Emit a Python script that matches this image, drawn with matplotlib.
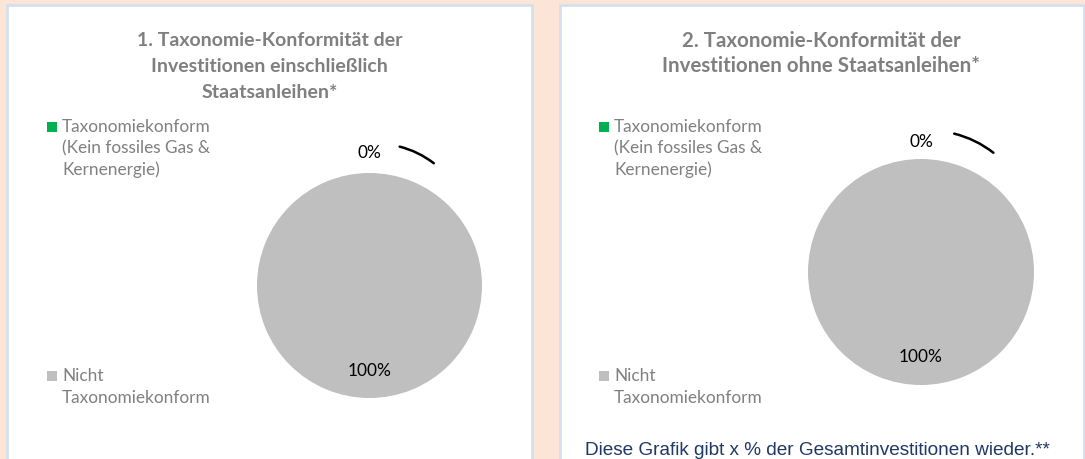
import matplotlib
matplotlib.use("Agg")
import matplotlib.pyplot as plt
from matplotlib.patches import Rectangle
import numpy as np

# ---------------- data ----------------
categories = ["Taxonomiekonform\n(Kein fossiles Gas &\nKernenergie)", "Nicht\nTaxonomiekonform"]
values_incl = [0, 100]   # 1. incl. Staatsanleihen
values_excl = [0, 100]   # 2. ohne Staatsanleihen
colors = ["#00B050", "#BFBFBF"]
titles = [
    ["1. Taxonomie-Konformität der", "Investitionen einschließlich", "Staatsanleihen*"],
    ["2. Taxonomie-Konformität der", "Investitionen ohne Staatsanleihen*"],
]
footnote = "Diese Grafik gibt x % der Gesamtinvestitionen wieder.**"

W, H = 1085, 459
fig = plt.figure(figsize=(W / 100, H / 100), dpi=100)
fig.patch.set_facecolor("#FCE4D6")


def fx(x):
    return x / W


def fy(y):
    return 1 - y / H


# panels
for x0, x1 in [(7, 532), (560, 1084)]:
    fig.patches.append(Rectangle((fx(x0), fy(480)), fx(x1) - fx(x0), fy(5) - fy(480),
                                 transform=fig.transFigure, facecolor="white",
                                 edgecolor="#D5E0EE", linewidth=2, zorder=-5))

title_font = "Lato"
title_color = "#7F7F7F"
legend_color = "#808080"

# titles
for line, y in zip(titles[0], [41, 67, 93]):
    fig.text(fx(269.5), fy(y), line, ha="center", va="center", fontsize=14,
             fontweight="bold", color=title_color, family=title_font)
for line, y in zip(titles[1], [41, 66]):
    fig.text(fx(821), fy(y), line, ha="center", va="center", fontsize=14.8,
             fontweight="bold", color=title_color, family=title_font)

# legends
legend_specs = [
    (47, [(127, 148, 170), (376, 398)]),
    (599, [(127, 148, 170), (376, 398)]),
]
for sx, ys in legend_specs:
    for cat, col, lys in zip(categories, colors, ys):
        sq_y = lys[0]
        fig.patches.append(Rectangle((fx(sx), fy(sq_y + 5)), fx(10), 10 / H,
                                     transform=fig.transFigure, facecolor=col,
                                     edgecolor="none", zorder=2))
        for txt, ly in zip(cat.split("\n"), lys):
            fig.text(fx(sx + 15), fy(ly), txt, ha="left", va="center", fontsize=12.4,
                     color=legend_color, family=title_font)

# pies
pie_specs = [
    # values, center px, radius px, label distances (0%-slice, 100%-slice), leader line
    (values_incl, (369.5, 285.5), 112.5, 1.18, 0.76, ((0.244, 1.24), (0.591, 1.071))),
    (values_excl, (921.0, 272.0), 113.0, 1.15, 0.75, ((0.27, 1.23), (0.66, 1.04))),
]
for vals, (cx, cy), R, dout, din, (p0, p1) in pie_specs:
    half = 1.6 * R
    ax = fig.add_axes([fx(cx - half), fy(cy + half), 2 * half / W, 2 * half / H])
    ax.axis("off")
    wedges, _ = ax.pie(vals, colors=colors, startangle=90, counterclock=False,
                       radius=1.0, wedgeprops=dict(linewidth=0))
    ax.set_xlim(-1.6, 1.6)
    ax.set_ylim(-1.6, 1.6)
    ax.set_aspect("equal")
    total = sum(vals)
    for w, v in zip(wedges, vals):
        ang = np.deg2rad((w.theta1 + w.theta2) / 2)
        d = dout if v == 0 else din
        ax.text(d * np.cos(ang), d * np.sin(ang), f"{round(100 * v / total)}%",
                ha="center", va="center", fontsize=12.4, color="#000000",
                family=title_font)
    ax.annotate("", xy=p1, xytext=p0,
                arrowprops=dict(arrowstyle="-", color="black", lw=1.8,
                                connectionstyle="arc3,rad=-0.12"),
                annotation_clip=False)

# footnote
fig.text(fx(585), fy(455), footnote, ha="left", va="baseline", fontsize=13.7,
         color="#1F3864", family="Liberation Sans")

fig.savefig("out.png", dpi=100, facecolor=fig.get_facecolor())
